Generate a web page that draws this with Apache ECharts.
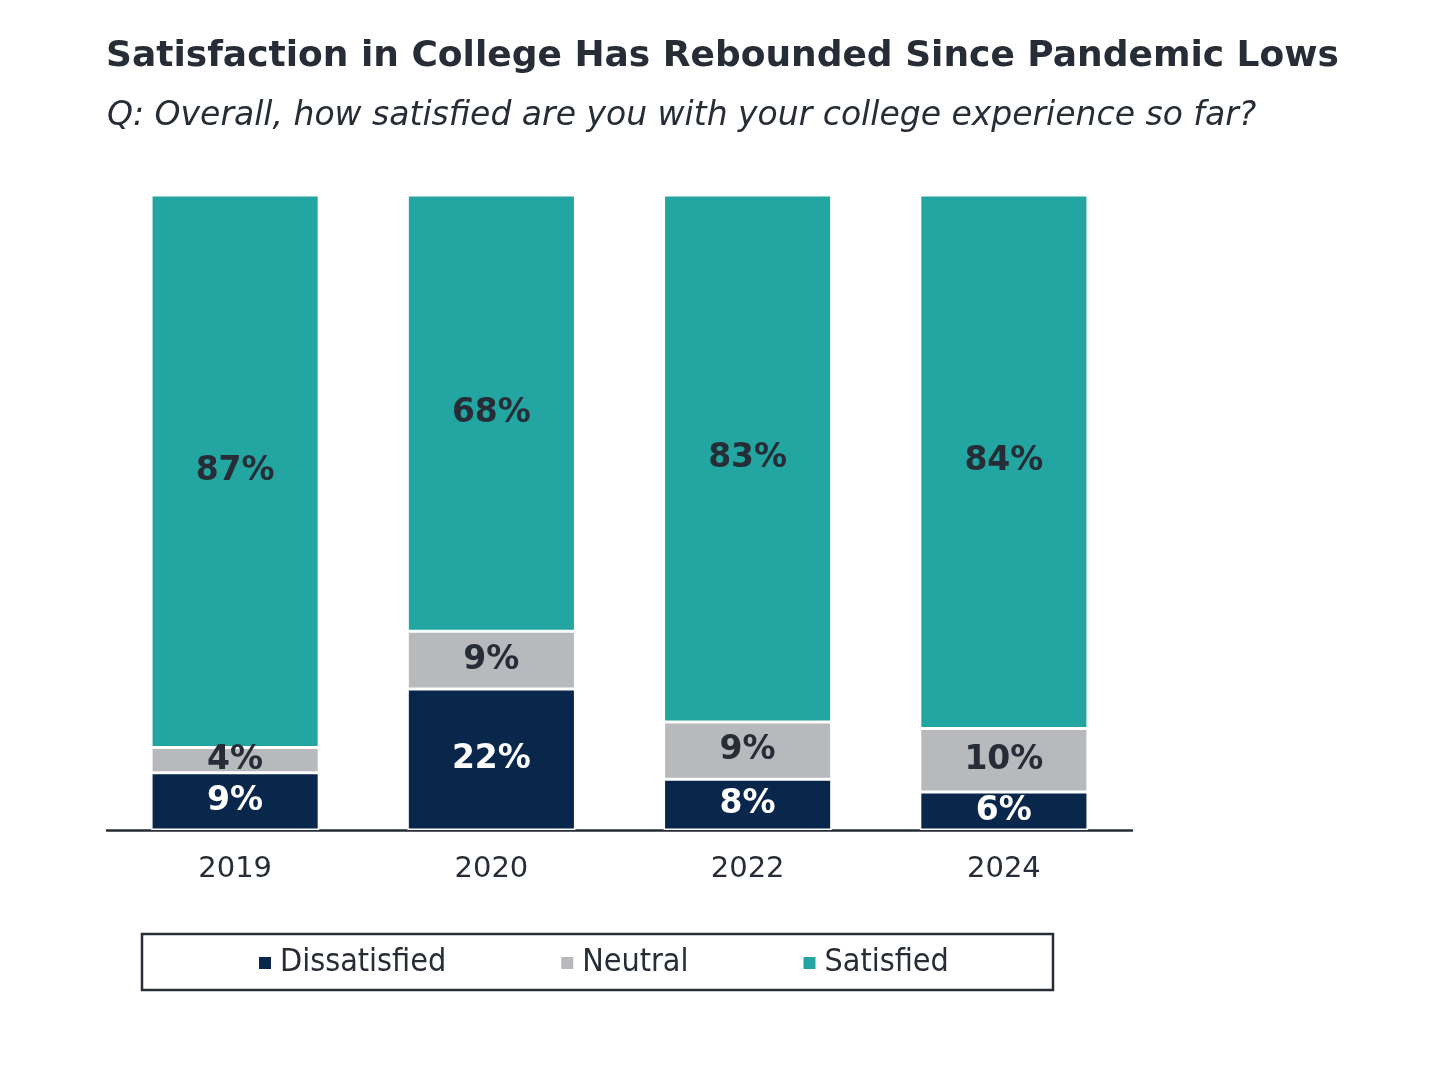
<!DOCTYPE html>
<html><head><meta charset="utf-8">
<script src="https://cdn.jsdelivr.net/npm/echarts@6/dist/echarts.min.js"></script>
<style>html,body{margin:0;padding:0;background:#fff}#c{width:1436px;height:1068px}</style>
</head><body><div id="c"></div>
<script>
const categories = ['2019', '2020', '2022', '2024'];
const dissatisfied = [9, 22, 8, 6];
const neutral = [4, 9, 9, 10];
const satisfied = [87, 68, 83, 84];
const seriesNames = ['Dissatisfied', 'Neutral', 'Satisfied'];

const raw = [dissatisfied, neutral, satisfied];
const totals = categories.map((_, i) => raw.reduce((s, a) => s + a[i], 0));
const colors = ['#08274b', '#b7b9bc', '#23a5a1'];
const labelColors = ['#ffffff', '#262d36', '#262d36'];
const txt = '#262d36';
const font = 'DejaVu Sans, Verdana, sans-serif';

const chart = echarts.init(document.getElementById('c'));
chart.setOption({
  animation: false,
  title: [
    {text: 'Satisfaction in College Has Rebounded Since Pandemic Lows', left: 101, top: 34,
     textStyle: {fontFamily: font, fontWeight: 'bold', fontSize: 36, color: txt}},
    {text: 'Q: Overall, how satisfied are you with your college experience so far?', left: 102, top: 95,
     textStyle: {fontFamily: font, fontStyle: 'italic', fontWeight: 'normal', fontSize: 33, color: txt}}
  ],
  grid: {left: 107, right: 304, top: 195, bottom: 238, containLabel: false},
  xAxis: {type: 'category', data: categories,
    axisLine: {lineStyle: {color: txt, width: 2.5}}, axisTick: {show: false},
    axisLabel: {fontFamily: font, fontSize: 29, color: txt, margin: 25}},
  yAxis: {type: 'value', min: 0, max: 100, show: false, splitLine: {show: false}},
  legend: {show: true, left: 257, top: 947, padding: 0, itemWidth: 14, itemHeight: 14, itemGap: 113,
    icon: 'rect',
    textStyle: {fontFamily: 'DejaVu Sans Condensed, DejaVu Sans, sans-serif', fontSize: 32, color: txt, padding: [0,0,0,3]},
    data: seriesNames},
  graphic: [{type: 'rect', shape: {x: 142, y: 934, width: 911, height: 56},
    style: {fill: 'none', stroke: txt, lineWidth: 2.5}, silent: true, z: 0}],
  series: raw.map((arr, si) => ({
    name: seriesNames[si], type: 'bar', stack: 'total', barWidth: '65.6%',
    data: arr.map((v, i) => ({value: v / totals[i] * 100, orig: v})),
    itemStyle: {color: colors[si], borderColor: '#ffffff', borderWidth: 1.5},
    label: {show: true, position: 'inside', fontFamily: font, fontWeight: 'bold', fontSize: 33,
      color: labelColors[si], formatter: p => p.data.orig + '%'}
  }))
});
</script></body></html>
